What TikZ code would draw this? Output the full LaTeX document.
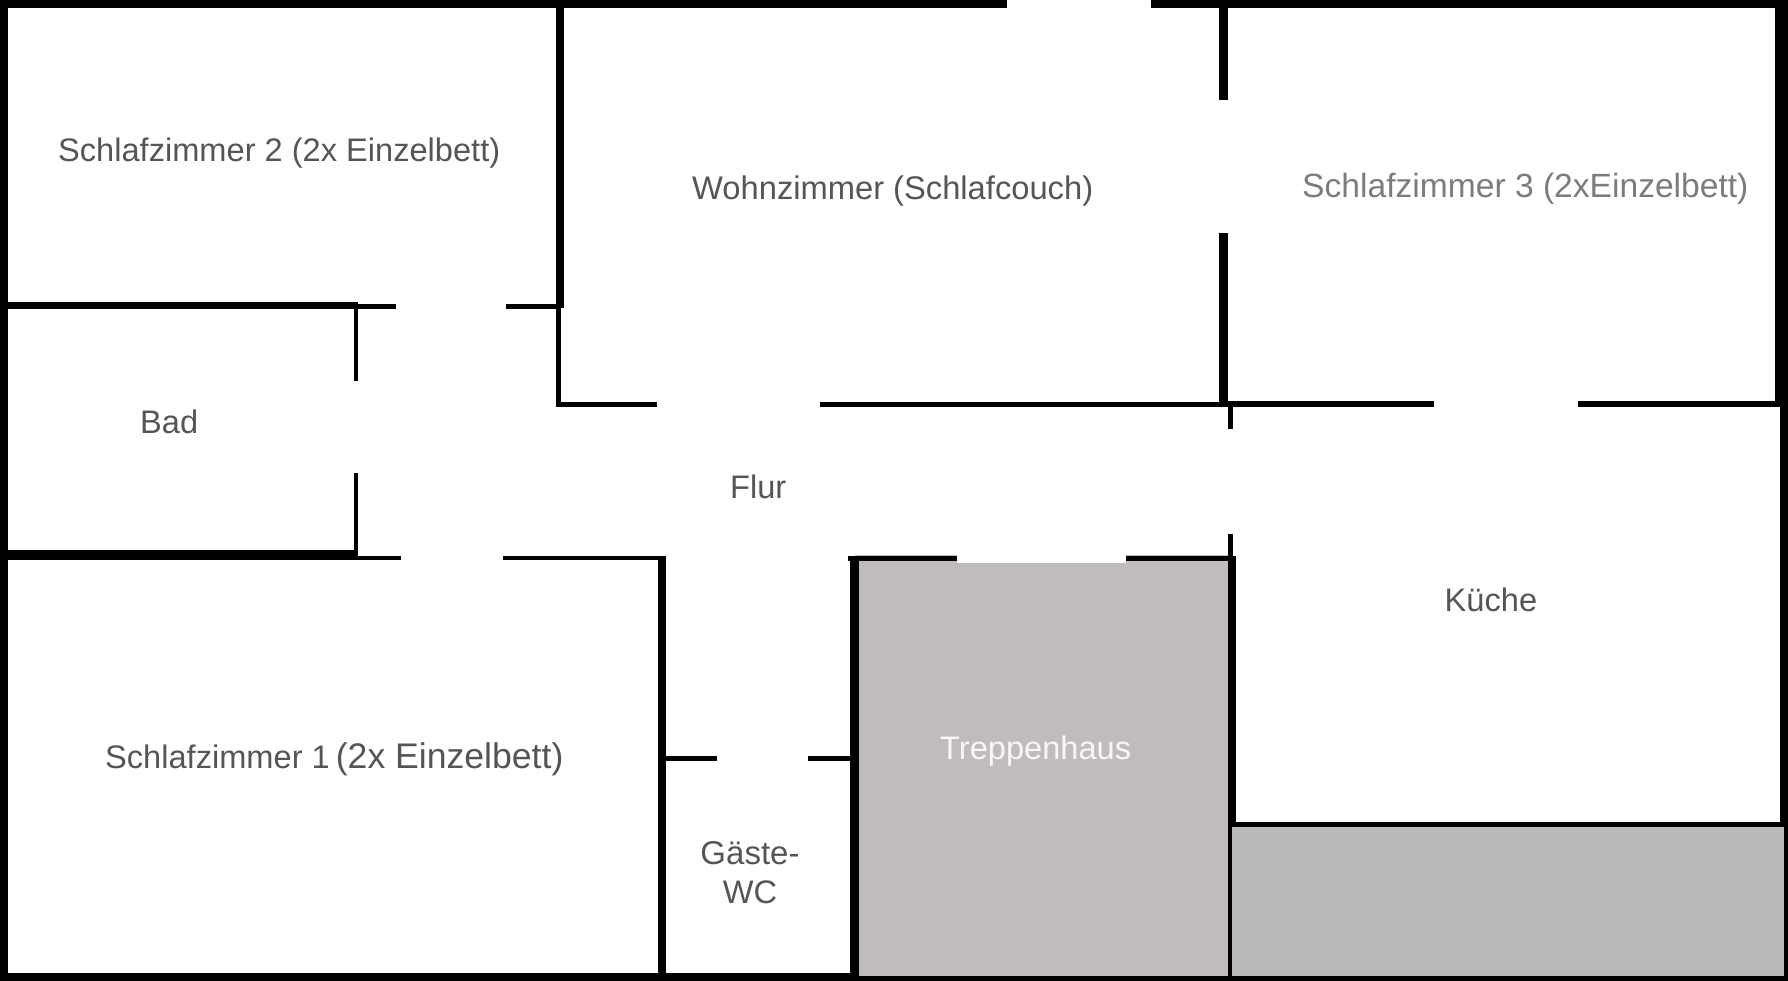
\documentclass[tikz,border=0pt]{standalone}
\usepackage{fontspec}
\setmainfont{Liberation Sans}
\definecolor{txt}{HTML}{555555}
\definecolor{txtlight}{HTML}{7C7C7C}
\definecolor{stairgray}{HTML}{C0BCBB}
\definecolor{kitchengray}{HTML}{BAB8B9}
\newcommand{\fsz}[1]{\fontsize{#1}{39}\selectfont}
\tikzset{
  wall/.style={fill=black},
  label/.style={anchor=base west,inner sep=0pt,text=txt,font=\fsz{32.6}},
}
\begin{document}
\begin{tikzpicture}[x=1pt,y=-1pt]
\useasboundingbox (0,0) rectangle (1788,981);
% grey areas
\fill[stairgray] (855,555) rectangle (1232,976);
\fill[white] (957,552) rectangle (1126,563);
\fill[kitchengray] (1232,826) rectangle (1784,977);
% outer frame
\fill[wall] (0,0) rectangle (1007.3,8);
\fill[wall] (1150.7,0) rectangle (1788,8);
\fill[wall] (0,0) rectangle (8,981);
\fill[wall] (0,973) rectangle (855,981);
\fill[wall] (850,976) rectangle (1788,981);
\fill[wall] (1775,0) rectangle (1788,404);
\fill[wall] (1780,404) rectangle (1788,826);
\fill[wall] (1784,826) rectangle (1788,981);
% Schlafzimmer 2 / Bad / Wohnzimmer
\fill[wall] (556,0) rectangle (564,308);
\fill[wall] (0,302) rectangle (358,309);
\fill[wall] (358,304) rectangle (396,309);
\fill[wall] (506,304) rectangle (558,309);
\fill[wall] (556,308) rectangle (561,407.3);
\fill[wall] (556,402.3) rectangle (657,407.3);
\fill[wall] (353.5,302) rectangle (358,381);
\fill[wall] (353.5,473) rectangle (358,556);
% Bad bottom / Schlafzimmer 1
\fill[wall] (0,550) rectangle (358,560);
\fill[wall] (358,555.7) rectangle (401,560.3);
\fill[wall] (503,555.7) rectangle (666,560.3);
\fill[wall] (657.5,555.7) rectangle (666,981);
% Gaeste-WC
\fill[wall] (666,755.7) rectangle (716.7,760.7);
\fill[wall] (808.3,755.7) rectangle (850,760.7);
\fill[wall] (850,555.7) rectangle (859.3,981);
\fill[wall] (847.7,555.7) rectangle (957,560.5);
\fill[wall] (1126,555.7) rectangle (1236,560.5);
% centre walls
\fill[wall] (820,402.3) rectangle (1228,407.3);
\fill[wall] (1219.3,0) rectangle (1228,100);
\fill[wall] (1219.3,233) rectangle (1228,407);
\fill[wall] (1228,400.8) rectangle (1434,407);
\fill[wall] (1577.7,400.8) rectangle (1788,407);
\fill[wall] (1228,400.8) rectangle (1232.5,428.7);
\fill[wall] (1228,534) rectangle (1232.5,556);
\fill[wall] (1228,555.7) rectangle (1236,826);
\fill[wall] (1228,826) rectangle (1232,981);
% Kueche bottom
\fill[wall] (1228,821.7) rectangle (1788,826.7);
% labels
\node[label] (sz2) at (58,162) {Schlafzimmer 2 (2x Einzelbett)};
\node[label,font=\fsz{32.7}] (wz) at (692,200) {Wohnzimmer (Schlafcouch)};
\node[label,text=txtlight,font=\fsz{33.6}] (sz3) at (1302,198) {Schlafzimmer 3 (2xEinzelbett)};
\node[label] (bad) at (140,433) {Bad};
\node[label] (flur) at (730,498) {Flur};
\node[label] (kueche) at (1444.5,611) {Küche};
\node[label] (sz1) at (105,768) {Schlafzimmer 1\hspace{-3pt} {\fsz{35.6}(2x Einzelbett)}};
\node[label,text=white!97!black] (treppe) at (940,759) {Treppenhaus};
\node[label,anchor=base,font=\fsz{33}] (gaeste) at (750,864) {Gäste-};
\node[label,anchor=base] (wc) at (750,903) {WC};
\end{tikzpicture}
\end{document}
